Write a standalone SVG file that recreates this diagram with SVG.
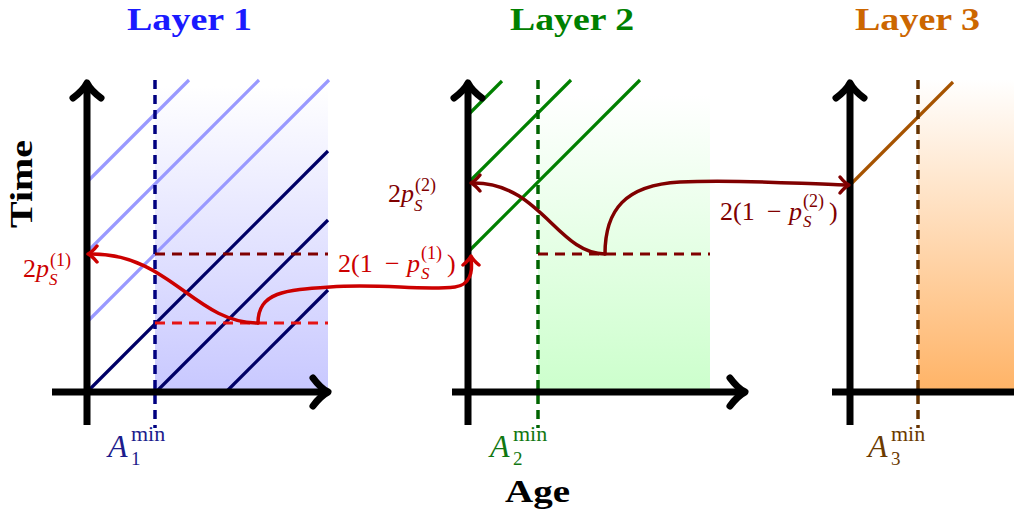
<svg xmlns="http://www.w3.org/2000/svg" xmlns:xlink="http://www.w3.org/1999/xlink" width="1014" height="516" viewBox="0 0 1014 516">
<defs>
<linearGradient id="g1" x1="0" y1="0" x2="0" y2="1"><stop offset="0" stop-color="#ffffff"/><stop offset="1" stop-color="#c8c8ff"/></linearGradient>
<linearGradient id="g2" x1="0" y1="0" x2="0" y2="1"><stop offset="0" stop-color="#ffffff"/><stop offset="1" stop-color="#ccffcc"/></linearGradient>
<linearGradient id="g3" x1="0" y1="0" x2="0" y2="1"><stop offset="0" stop-color="#ffffff"/><stop offset="1" stop-color="#ffb366"/></linearGradient>
<path id="bigHead" d="M-15,-14 C-9,-6 -4,-2 0,0 C-4,2 -9,6 -15,14"/>
<path id="smallHead" d="M-9,-8 C-5,-3 -2,-1 0,0 C-2,1 -5,3 -9,8"/>
</defs>
<style>
.axis{stroke:#000;stroke-width:7;fill:none}
.ahead{stroke:#000;stroke-width:7;fill:none;stroke-linecap:round;stroke-linejoin:round}
.life{stroke-width:3.2;fill:none}
.amin{stroke-width:3.5;fill:none;stroke-dasharray:9 6}
.hdash{stroke-width:3;fill:none;stroke-dasharray:10 7}
.curve{stroke-width:3.5;fill:none;stroke-linecap:round}
.shead{stroke-width:3.5;fill:none;stroke-linecap:round;stroke-linejoin:round}
.title{font-family:"Liberation Serif",serif;font-weight:bold;font-size:32px}
.math{font-family:"Liberation Serif",serif;font-size:26px}
.it{font-style:italic}
.amlab{font-family:"Liberation Serif",serif;font-size:32px}
</style>

<g id="layer1">
<rect x="155" y="86" width="173" height="306" fill="url(#g1)"/>
<g stroke="#9999ff" class="life">
<line x1="87" y1="182" x2="189" y2="80"/>
<line x1="87" y1="252" x2="259" y2="80"/>
<line x1="87" y1="322" x2="329" y2="80"/>
</g>
<g stroke="#000066" class="life">
<line x1="87" y1="392" x2="328" y2="151"/>
<line x1="156" y1="392" x2="328" y2="220"/>
<line x1="226" y1="392" x2="328" y2="290"/>
</g>
<line x1="155" y1="80" x2="155" y2="428" stroke="#000080" class="amin"/>
<line x1="155" y1="254" x2="328" y2="254" stroke="#800000" class="hdash"/>
<line x1="155" y1="323" x2="328" y2="323" stroke="#e61414" class="hdash"/>
<line x1="87" y1="425" x2="87" y2="86" class="axis"/>
<line x1="52" y1="392" x2="325" y2="392" class="axis"/>
<use xlink:href="#bigHead" class="ahead" transform="translate(87,83) rotate(-90)"/>
<use xlink:href="#bigHead" class="ahead" transform="translate(328,392)"/>
<text class="title" x="127" y="30" fill="#1a1aff" textLength="125" lengthAdjust="spacingAndGlyphs">Layer 1</text>
<text class="amlab" x="108" y="457" fill="#1c1c8c"><tspan class="it">A</tspan><tspan x="131" y="465" font-size="19">1</tspan><tspan x="131" y="441" font-size="22">min</tspan></text>
</g>

<g id="layer2">
<rect x="538" y="95" width="172" height="297" fill="url(#g2)"/>
<g stroke="#008000" class="life">
<line x1="468" y1="115" x2="502" y2="81"/>
<line x1="468" y1="183" x2="571" y2="80"/>
<line x1="468" y1="252" x2="640" y2="80"/>
</g>
<line x1="538" y1="80" x2="538" y2="428" stroke="#006400" class="amin"/>
<line x1="538" y1="254" x2="710" y2="254" stroke="#800000" class="hdash"/>
<line x1="468" y1="425" x2="468" y2="86" class="axis"/>
<line x1="452" y1="392" x2="742" y2="392" class="axis"/>
<use xlink:href="#bigHead" class="ahead" transform="translate(468,83) rotate(-90)"/>
<use xlink:href="#bigHead" class="ahead" transform="translate(745,392)"/>
<text class="title" x="510" y="30" fill="#008000" textLength="124" lengthAdjust="spacingAndGlyphs">Layer 2</text>
<text class="amlab" x="490" y="457" fill="#117711"><tspan class="it">A</tspan><tspan x="513" y="465" font-size="19">2</tspan><tspan x="513" y="441" font-size="22">min</tspan></text>
</g>

<g id="layer3">
<rect x="918" y="80" width="96" height="312" fill="url(#g3)"/>
<line x1="850" y1="185" x2="953" y2="82" stroke="#a65300" class="life"/>
<line x1="918" y1="80" x2="918" y2="428" stroke="#663300" class="amin"/>
<line x1="850" y1="425" x2="850" y2="86" class="axis"/>
<line x1="832" y1="392" x2="1020" y2="392" class="axis"/>
<use xlink:href="#bigHead" class="ahead" transform="translate(850,83) rotate(-90)"/>
<text class="title" x="855" y="30" fill="#cc6600" textLength="125" lengthAdjust="spacingAndGlyphs">Layer 3</text>
<text class="amlab" x="868" y="457" fill="#6b3a00"><tspan class="it">A</tspan><tspan x="891" y="465" font-size="19">3</tspan><tspan x="891" y="441" font-size="22">min</tspan></text>
</g>

<g id="axis-labels">
<text class="title" transform="translate(32,184) rotate(-90)" text-anchor="middle" fill="#000" textLength="88" lengthAdjust="spacingAndGlyphs">Time</text>
<text class="title" x="505" y="502" fill="#000" textLength="65" lengthAdjust="spacingAndGlyphs">Age</text>
</g>

<g id="connectors">
<path class="curve" stroke="#cc0000" d="M258,323 C195,323 170,254 92,254"/>
<use xlink:href="#smallHead" class="shead" stroke="#cc0000" transform="translate(88,254) rotate(180)"/>
<path class="curve" stroke="#cc0000" d="M258,323 C258,292 285,290 330,287 C380,283 420,291 455,287 C470,285 473,272 471,259"/>
<use xlink:href="#smallHead" class="shead" stroke="#cc0000" transform="translate(471,256) rotate(-90)"/>
<path class="curve" stroke="#800000" d="M605,254 C558,254 540,183 474,183"/>
<use xlink:href="#smallHead" class="shead" stroke="#800000" transform="translate(471,183) rotate(180)"/>
<path class="curve" stroke="#800000" d="M605,254 C605,210 625,185 680,182 C740,179 800,184 846,185"/>
<use xlink:href="#smallHead" class="shead" stroke="#800000" transform="translate(849,185)"/>
</g>

<g id="labels">
<text class="math" fill="#cc0000" x="23" y="277">2<tspan class="it">p</tspan><tspan class="it" x="49" y="285" font-size="17">S</tspan><tspan x="50" y="266" font-size="18">(1)</tspan></text>
<text class="math" fill="#cc0000" x="338" y="272">2(1<tspan x="385">−</tspan><tspan class="it" x="407">p</tspan><tspan class="it" x="421" y="279" font-size="17">S</tspan><tspan x="421" y="259" font-size="18">(1)</tspan><tspan x="447" y="272">)</tspan></text>
<text class="math" fill="#800000" x="388" y="202">2<tspan class="it">p</tspan><tspan class="it" x="414" y="211" font-size="17">S</tspan><tspan x="415" y="191" font-size="18">(2)</tspan></text>
<text class="math" fill="#800000" x="720" y="220">2(1<tspan x="767">−</tspan><tspan class="it" x="789">p</tspan><tspan class="it" x="803" y="227" font-size="17">S</tspan><tspan x="803" y="207" font-size="18">(2)</tspan><tspan x="829" y="220">)</tspan></text>
</g>
</svg>
